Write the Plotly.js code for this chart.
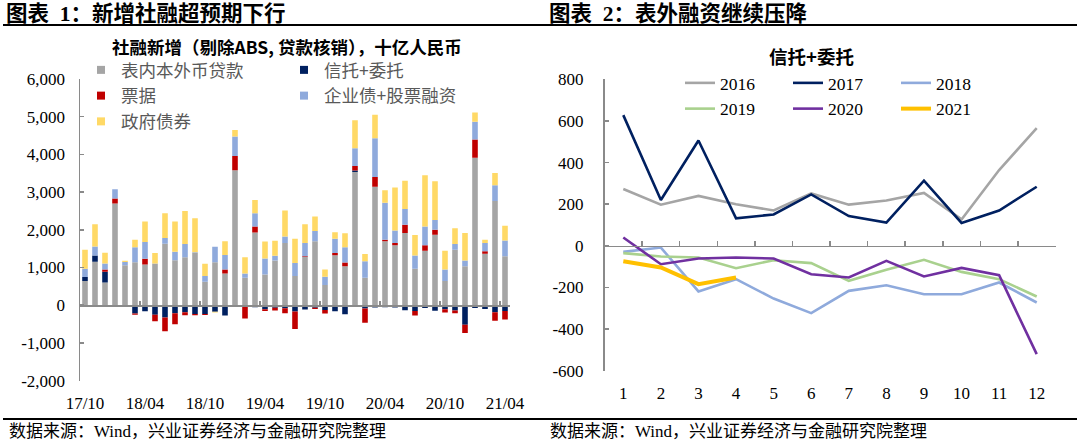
<!DOCTYPE html>
<html><head><meta charset="utf-8">
<script src="https://cdn.plot.ly/plotly-3.0.1.min.js"></script>
<style>html,body{margin:0;padding:0;background:#fff;}#chart{width:1080px;height:442px;}</style>
</head><body><div id="chart"></div>
<script>
// ---------- Chart 1 data: 社融新增 (十亿人民币) ----------
const months = ['17/10','17/11','17/12','18/01','18/02','18/03','18/04','18/05','18/06','18/07','18/08','18/09',
  '18/10','18/11','18/12','19/01','19/02','19/03','19/04','19/05','19/06','19/07','19/08','19/09',
  '19/10','19/11','19/12','20/01','20/02','20/03','20/04','20/05','20/06','20/07','20/08','20/09',
  '20/10','20/11','20/12','21/01','21/02','21/03','21/04'];
const loans = [640,1150,600,2700,1060,1140,1080,1105,1630,1193,1272,1386,623,1140,842,3580,728,1930,816,1184,1650,772,1280,1693,535,1325,1035,3535,728,3140,1693,1588,1912,965,1447,1868,640,1473,1035,3912,1368,2763,1298];
const trustEntrusted = [110,170,284,-29,-8,-219,-160,-253,-323,-216,-189,-232,-232,-176,-272,-35,-51,-56,-107,-69,-83,-168,-115,-67,-125,-160,-243,40,-88,-61,-56,-61,-136,-152,-72,-147,-106,-141,-520,-74,-104,-184,-152];
const bills = [0,0,61,130,0,-35,150,-175,-370,-290,-80,-35,-25,0,105,377,-300,158,-45,-70,-130,-465,18,-35,-96,61,96,114,-377,263,44,61,219,-123,140,132,-88,-70,-219,482,61,-230,-230];
const bondsEquity = [220,237,158,245,88,400,447,0,150,228,350,20,150,412,386,518,114,350,420,130,175,350,350,272,219,377,403,474,439,1026,982,333,421,351,500,263,307,149,149,474,219,421,421];
const govBonds = [500,588,290,0,30,193,544,280,658,800,877,900,325,-20,360,175,430,350,456,395,684,640,500,386,193,175,377,746,193,623,333,1140,746,544,1360,1026,500,421,728,246,88,325,386];
const seriesNames1 = ['表内本外币贷款','信托+委托','票据','企业债+股票融资','政府债券'];
const monthTickLabels = ['17/10','18/04','18/10','19/04','19/10','20/04','20/10','21/04'];
const yTickVals1 = [-2000,-1000,0,1000,2000,3000,4000,5000,6000];
const yTickText1 = ['-2,000','-1,000','0','1,000','2,000','3,000','4,000','5,000','6,000'];

// ---------- Chart 2 data: 信托+委托 by month ----------
const monthNums = [1,2,3,4,5,6,7,8,9,10,11,12];
const y2016 = [273,198,240,200,170,252,198,218,254,127,364,565];
const y2017 = [628,220,506,132,151,247,143,112,313,110,170,284];
const y2018 = [-29,-8,-219,-160,-253,-323,-216,-189,-232,-232,-176,-272];
const y2019 = [-35,-51,-56,-107,-69,-83,-168,-115,-67,-125,-160,-243];
const y2020 = [40,-88,-61,-56,-61,-136,-152,-72,-147,-106,-141,-520];
const y2021 = [-74,-104,-184,-152];
const yearNames = ['2016','2017','2018','2019','2020','2021'];
const yTickVals2 = [-600,-400,-200,0,200,400,600,800];
const yTickText2 = ['-600','-400','-200','0','200','400','600','800'];

// ---------- styling ----------
const W = 1080, H = 442;
const px = v => v / W, py = v => 1 - v / H;
const axisGray = '#8a8a8a';
const serif = 'Liberation Serif, Times New Roman, serif';
const cjk = 'Noto Sans CJK SC, sans-serif';
const mix = 'Liberation Serif, Noto Sans CJK SC, serif';
const barColors = ['#A5A5A5','#002060','#C00000','#8FAADC','#FFD966'];
const lineColors = ['#A5A5A5','#002060','#8FAADC','#A9D18E','#7030A0','#FFC000'];
const lineWidths = [2.6,2.6,2.6,2.6,2.6,4];
const barSeries = [loans, trustEntrusted, bills, bondsEquity, govBonds];
const legendOf1 = ['legend','legend2','legend','legend2','legend'];

const traces = [];
barSeries.forEach((s, i) => {
  traces.push({type:'bar', x: months, y: s, name: seriesNames1[i], xaxis:'x', yaxis:'y',
    width: 0.56, marker:{color: barColors[i], line:{width:0}}, showlegend:false, hoverinfo:'skip'});
});
// legend entries (small squares)
[0,2,4,1,3].forEach(i => {
  traces.push({type:'scatter', mode:'markers', x:[null], y:[null], xaxis:'x', yaxis:'y',
    name: seriesNames1[i], legend: legendOf1[i], marker:{symbol:'square', size:8, color: barColors[i]},
    hoverinfo:'skip'});
});
const yearSeries = [y2016,y2017,y2018,y2019,y2020,y2021];
const legendOf2 = ['legend3','legend4','legend5','legend3','legend4','legend5'];
yearSeries.forEach((s, i) => {
  traces.push({type:'scatter', mode:'lines', x: monthNums.slice(0, s.length), y: s, name: yearNames[i],
    xaxis:'x2', yaxis:'y2', legend: legendOf2[i],
    line:{color: lineColors[i], width: lineWidths[i]}, hoverinfo:'skip'});
});
// helper traces so the zero-line axes are drawn
traces.push({type:'scatter', mode:'markers', x:[null], y:[null], xaxis:'x3', yaxis:'y', showlegend:false, hoverinfo:'skip'});
traces.push({type:'scatter', mode:'markers', x:[null], y:[null], xaxis:'x4', yaxis:'y2', showlegend:false, hoverinfo:'skip'});

const leftDomX = [px(80), px(510)];
const leftDomY = [py(380.6), py(79)];
const rightDomX = [px(604.5), px(1055.5)];
const rightDomY = [py(370.8), py(79.3)];
const zero1 = leftDomY[0] + (leftDomY[1]-leftDomY[0]) * (2000/8000);
const zero2 = rightDomY[0] + (rightDomY[1]-rightDomY[0]) * (600/1400);

const legendBase = {orientation:'v', bgcolor:'rgba(0,0,0,0)', borderwidth:0, tracegroupgap:0,
  xanchor:'left', yanchor:'top', itemclick:false, itemdoubleclick:false};

const NB = '\u00A0';
const layout = {
  width: W, height: H, margin:{l:0,r:0,t:0,b:0},
  paper_bgcolor:'#ffffff', plot_bgcolor:'rgba(0,0,0,0)',
  barmode:'relative', showlegend:true, hovermode:false,
  xaxis:{domain:leftDomX, anchor:'y', type:'category', range:[-0.5,42.5], tickmode:'array',
    tickvals: monthTickLabels, ticktext: monthTickLabels, ticks:'', showline:false, showgrid:false, zeroline:false,
    tickfont:{family:serif, size:17, color:'#000'}, ticklabelstandoff:10},
  yaxis:{domain:leftDomY, anchor:'x', range:[-2000,6000], tickmode:'array', tickvals:yTickVals1, ticktext:yTickText1,
    ticks:'inside', ticklen:4, tickwidth:1.5, tickcolor:axisGray, showline:true, linecolor:axisGray, linewidth:1.5,
    showgrid:false, zeroline:false, tickfont:{family:serif, size:17, color:'#000'}, ticklabelstandoff:10},
  xaxis3:{overlaying:'x', anchor:'free', position:zero1, type:'linear', range:[-0.5,42.5], tickmode:'array',
    tickvals:[5.5,11.5,17.5,23.5,29.5,35.5,41.5], ticks:'inside', ticklen:4, tickwidth:1.5, tickcolor:axisGray,
    showticklabels:false, showline:true, linecolor:axisGray, linewidth:1.5, showgrid:false, zeroline:false},
  xaxis2:{domain:rightDomX, anchor:'y2', range:[0.5,12.5], tickmode:'array', tickvals:monthNums,
    ticks:'', showline:false, showgrid:false, zeroline:false,
    tickfont:{family:serif, size:17, color:'#000'}, ticklabelstandoff:10},
  yaxis2:{domain:rightDomY, anchor:'x2', range:[-600,800], tickmode:'array', tickvals:yTickVals2, ticktext:yTickText2,
    ticks:'inside', ticklen:4, tickwidth:1.5, tickcolor:axisGray, showline:true, linecolor:axisGray, linewidth:1.5,
    showgrid:false, zeroline:false, tickfont:{family:serif, size:17, color:'#000'}, ticklabelstandoff:16},
  xaxis4:{overlaying:'x2', anchor:'free', position:zero2, type:'linear', range:[0.5,12.5], tickmode:'array',
    tickvals:[1.5,2.5,3.5,4.5,5.5,6.5,7.5,8.5,9.5,10.5,11.5,12.5], ticks:'inside', ticklen:5, tickwidth:1.5,
    tickcolor:axisGray, showticklabels:false, showline:true, linecolor:axisGray, linewidth:1.5,
    showgrid:false, zeroline:false},
  legend: Object.assign({}, legendBase, {x:px(81), y:py(52), font:{family:cjk, size:17.5, color:'#595959'}}),
  legend2: Object.assign({}, legendBase, {x:px(284), y:py(52), font:{family:cjk, size:17.5, color:'#595959'}}),
  legend3: Object.assign({}, legendBase, {x:px(680), y:py(65), font:{family:serif, size:17.5, color:'#000'}}),
  legend4: Object.assign({}, legendBase, {x:px(788), y:py(65), font:{family:serif, size:17.5, color:'#000'}}),
  legend5: Object.assign({}, legendBase, {x:px(896), y:py(65), font:{family:serif, size:17.5, color:'#000'}}),
  shapes:[
    {type:'line', xref:'paper', yref:'paper', x0:px(3), x1:px(1077), y0:py(25), y1:py(25), line:{color:'#000', width:2.2}},
    {type:'line', xref:'paper', yref:'paper', x0:px(3), x1:px(1077), y0:py(419), y1:py(419), line:{color:'#000', width:2.2}}
  ],
  annotations:[
    {text:'<b>图表' + NB + NB + '1：新增社融超预期下行</b>', xref:'paper', yref:'paper', x:px(4), y:py(13.5), xanchor:'left', yanchor:'middle',
      showarrow:false, font:{family:mix, size:21.5, color:'#000'}},
    {text:'<b>图表' + NB + NB + '2：表外融资继续压降</b>', xref:'paper', yref:'paper', x:px(547), y:py(13.5), xanchor:'left', yanchor:'middle',
      showarrow:false, font:{family:mix, size:21.5, color:'#000'}},
    {text:'<b>社融新增（剔除ABS, 贷款核销），十亿人民币</b>', xref:'paper', yref:'paper', x:px(287), y:py(47), xanchor:'center', yanchor:'middle',
      showarrow:false, font:{family:cjk, size:17.5, color:'#000'}},
    {text:'<b>信托+委托</b>', xref:'paper', yref:'paper', x:px(811), y:py(56), xanchor:'center', yanchor:'middle',
      showarrow:false, font:{family:cjk, size:18.5, color:'#000'}},
    {text:'数据来源：Wind，兴业证券经济与金融研究院整理', xref:'paper', yref:'paper', x:px(7), y:py(431), xanchor:'left', yanchor:'middle',
      showarrow:false, font:{family:mix, size:17, color:'#000'}},
    {text:'数据来源：Wind，兴业证券经济与金融研究院整理', xref:'paper', yref:'paper', x:px(548), y:py(431), xanchor:'left', yanchor:'middle',
      showarrow:false, font:{family:mix, size:17, color:'#000'}}
  ]
};

Plotly.newPlot('chart', traces, layout, {displayModeBar:false, staticPlot:true});
</script>
</body></html>
